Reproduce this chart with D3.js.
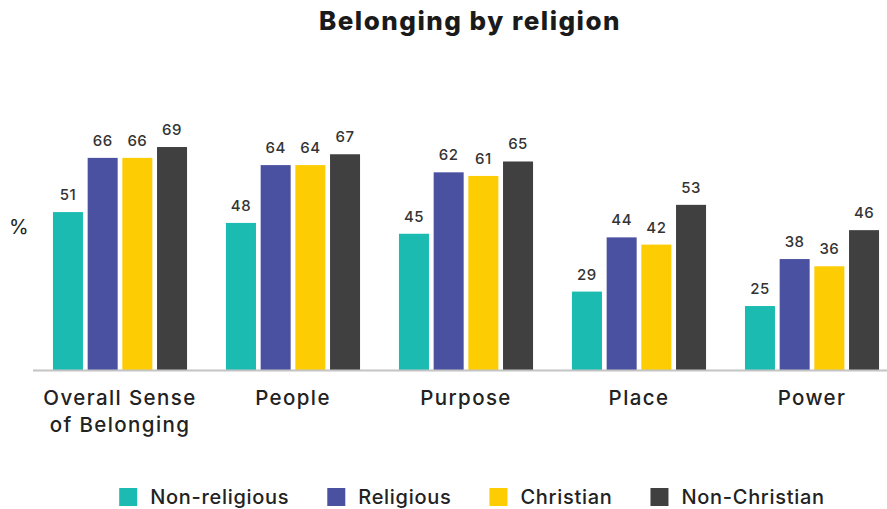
<!DOCTYPE html>
<html>
<head>
<meta charset="utf-8">
<script src="https://cdn.jsdelivr.net/npm/d3@7"></script>
<style>
  body { margin: 0; background: #fff; }
  text { font-family: Inter, "Noto Sans", sans-serif; }
</style>
</head>
<body>
<div id="chart"></div>
<script>
// categories and series
const categories = ['Overall Sense\nof Belonging', 'People', 'Purpose', 'Place', 'Power'];
const seriesNames = ['Non-religious', 'Religious', 'Christian', 'Non-Christian'];
const seriesColors = ['#1bbbb1', '#4b51a1', '#fecc02', '#404040'];

const nonReligious = [51, 48, 45, 29, 25];
const religious = [66, 64, 62, 44, 38];
const christian = [66, 64, 61, 42, 36];
const nonChristian = [69, 67, 65, 53, 46];

const seriesValues = [nonReligious, religious, christian, nonChristian];

// layout
const width = 887, height = 509;
const baseY = 370;
const yMin = 7.3, yMax = 100;

const svg = d3.select('#chart')
  .append('svg')
  .attr('width', width)
  .attr('height', height);

const x0 = d3.scaleBand()
  .domain(categories)
  .range([33.5, 898.5])
  .paddingInner(0.225)
  .paddingOuter(0.1125);

const x1 = d3.scaleBand()
  .domain(seriesNames)
  .range([0, x0.bandwidth()])
  .paddingInner(0.135);

const y = d3.scaleLinear()
  .domain([yMin, yMax])
  .range([baseY, 35]);

//Title
svg.append('text')
  .attr('x', 470)
  .attr('y', 30)
  .attr('text-anchor', 'middle')
  .attr('font-size', 26)
  .attr('font-weight', 800)
  .attr('letter-spacing', 1.5)
  .attr('fill', '#1a1a1a')
  .text('Belonging by religion');

//Axis unit
svg.append('text')
  .attr('x', 9)
  .attr('y', 234)
  .attr('font-size', 20)
  .attr('fill', '#222')
  .text('%');

//Bars
const rows = categories.map((c, i) => ({
  cat: c,
  vals: seriesNames.map((s, j) => ({ s, v: seriesValues[j][i], color: seriesColors[j] }))
}));

const groups = svg.append('g')
  .selectAll('g')
  .data(rows)
  .join('g')
  .attr('transform', d => `translate(${x0(d.cat)},0)`);

groups.selectAll('rect')
  .data(d => d.vals)
  .join('rect')
  .attr('x', d => x1(d.s))
  .attr('y', d => y(d.v))
  .attr('width', x1.bandwidth())
  .attr('height', d => y(yMin) - y(d.v))
  .attr('fill', d => d.color);

groups.selectAll('.label')
  .data(d => d.vals)
  .join('text')
  .attr('class', 'label')
  .attr('x', d => x1(d.s) + x1.bandwidth() / 2)
  .attr('y', d => y(d.v) - 12)
  .attr('text-anchor', 'middle')
  .attr('font-size', 15)
  .attr('font-weight', 500)
  .attr('letter-spacing', 0.5)
  .attr('fill', '#333')
  .text(d => d.v);

//Baseline
svg.append('line')
  .attr('x1', 33)
  .attr('x2', width)
  .attr('y1', baseY + 0.5)
  .attr('y2', baseY + 0.5)
  .attr('stroke', '#c4c4c4')
  .attr('stroke-width', 2);

//Category labels
const catLabels = svg.append('g')
  .selectAll('text')
  .data(categories)
  .join('text')
  .attr('x', d => x0(d) + x0.bandwidth() / 2)
  .attr('y', 405)
  .attr('text-anchor', 'middle')
  .attr('font-size', 20.5)
  .attr('font-weight', 500)
  .attr('letter-spacing', 1.4)
  .attr('fill', '#222');

catLabels.selectAll('tspan')
  .data(d => d.split('\n').map(t => ({ t, x: x0(d) + x0.bandwidth() / 2 })))
  .join('tspan')
  .attr('x', d => d.x)
  .attr('dy', (d, i) => i === 0 ? 0 : 27)
  .text(d => d.t);

//Legend
const legend = svg.append('g');
const items = legend.selectAll('g')
  .data(seriesNames)
  .join('g');

items.append('rect')
  .attr('width', 18)
  .attr('height', 18)
  .attr('y', 488)
  .attr('fill', (d, i) => seriesColors[i]);

items.append('text')
  .attr('x', 31)
  .attr('y', 504)
  .attr('font-size', 20)
  .attr('font-weight', 500)
  .attr('letter-spacing', 0.7)
  .attr('fill', '#222')
  .text(d => d);

let lx = 0;
const offsets = [];
items.each(function () {
  offsets.push(lx);
  lx += 31 + d3.select(this).select('text').node().getComputedTextLength() + 38;
});
const total = lx - 38;
const startX = 472 - total / 2;
items.attr('transform', (d, i) => `translate(${startX + offsets[i]},0)`);
</script>
</body>
</html>
